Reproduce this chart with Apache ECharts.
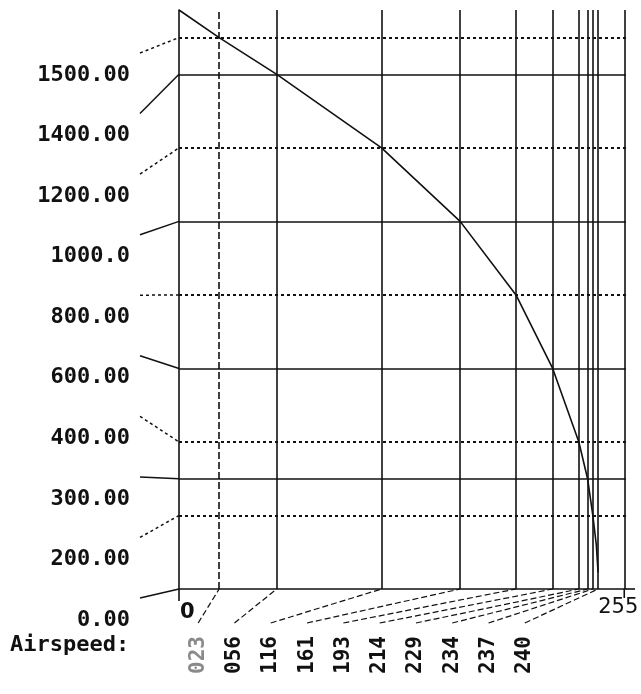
<!DOCTYPE html>
<html>
<head>
<meta charset="utf-8">
<script src="https://cdn.jsdelivr.net/npm/echarts@6/dist/echarts.min.js"></script>
<style>
  html, body { margin: 0; padding: 0; background: #fff; }
  #chart { width: 641px; height: 694px; }
</style>
</head>
<body>
<div id="chart"></div>
<script>
// 高度刻度（横线）
const altLevels = [1500, 1400, 1200, 1000, 800, 600, 400, 300, 200, 0];
const altLabels = ['1500.00', '1400.00', '1200.00', '1000.0', '800.00', '600.00', '400.00', '300.00', '200.00', '0.00'];
const altDotted = [true, false, true, false, true, false, true, false, true, false];

// 空速刻度（竖线）
const speedTicks = [23, 56, 116, 161, 193, 214, 229, 234, 237, 240];
const speedLabels = ['023', '056', '116', '161', '193', '214', '229', '234', '237', '240'];
const speedMax = 255;

// 曲线
const curveSpeed = [0, 23, 56, 116, 161, 193, 214, 229, 234, 237, 239, 240];
const curveAlt = [1575, 1500, 1400, 1200, 1000, 800, 600, 400, 300, 200, 120, 45];

const ink = '#111';
const monoBold = '"DejaVu Sans Mono", monospace';
const dotDash = [3, 3];

const chart = echarts.init(document.getElementById('chart'));

// 网格线（markLine）
const gridLines = [];
speedTicks.forEach(s => {
  gridLines.push({
    xAxis: s,
    lineStyle: { type: s === 23 ? [7, 3] : 'solid', color: ink, width: 1.6 },
  });
});
gridLines.push({ xAxis: speedMax, lineStyle: { type: 'solid', color: ink, width: 1.6 } });
altLevels.forEach((lvl, i) => {
  if (lvl === 0) return;
  gridLines.push({
    yAxis: lvl,
    lineStyle: { type: altDotted[i] ? dotDash : 'solid', color: ink, width: altDotted[i] ? 2 : 1.6 },
  });
});

const option = {
  animation: false,
  grid: [
    { left: 179, top: 10, width: 447, height: 579 }, // 主图
    { left: 140, top: 75, width: 39, height: 545 }, // 左侧标签
    { left: 180, top: 560, width: 363, height: 63 }, // 底部标签
  ],
  xAxis: [
    {
      gridIndex: 0,
      type: 'value',
      min: 0,
      max: 256,
      axisLine: { show: true, onZero: false, lineStyle: { color: ink, width: 1.6 } },
      axisTick: { show: false },
      axisLabel: { show: false },
      splitLine: { show: false },
    },
    { gridIndex: 1, type: 'value', min: 0, max: 1, show: false },
    {
      gridIndex: 2,
      type: 'category',
      data: speedLabels,
      axisLine: { show: false },
      axisTick: { show: false },
      splitLine: { show: false },
      axisLabel: {
        rotate: 90,
        margin: 13,
        interval: 0,
        fontFamily: monoBold,
        fontWeight: 'bold',
        fontSize: 21,
        color: v => (v === '023' ? '#8a8a8a' : ink),
      },
    },
  ],
  yAxis: [
    {
      gridIndex: 0,
      type: 'value',
      min: 0,
      max: 1575,
      axisLine: { show: true, lineStyle: { color: ink, width: 1.6 } },
      axisTick: { show: false },
      axisLabel: { show: false },
      splitLine: { show: false },
    },
    {
      gridIndex: 1,
      type: 'value',
      min: 0,
      max: 9,
      interval: 1,
      inverse: true,
      axisLine: { show: false },
      axisTick: { show: false },
      splitLine: { show: false },
      axisLabel: {
        margin: 10,
        formatter: v => altLabels[v] || '',
        fontFamily: monoBold,
        fontWeight: 'bold',
        fontSize: 22,
        color: ink,
      },
    },
    { gridIndex: 2, type: 'value', min: 0, max: 1, show: false },
  ],
  series: [
    {
      name: '曲线',
      type: 'line',
      xAxisIndex: 0,
      yAxisIndex: 0,
      data: curveSpeed.map((s, i) => [s, curveAlt[i]]),
      symbol: 'none',
      silent: true,
      lineStyle: { color: ink, width: 1.6 },
      z: 3,
      markLine: {
        silent: true,
        symbol: 'none',
        label: { show: false },
        data: gridLines,
        z: 2,
      },
    },
  ],
};

chart.setOption(option);

// 引线和文字（按坐标换算）
const px = (gi, v) => chart.convertToPixel({ gridIndex: gi }, v);
const elements = [];

altLevels.forEach((lvl, i) => {
  const end = px(0, [0, lvl]);
  const start = px(1, [0, i]);
  elements.push({
    type: 'line',
    silent: true,
    shape: { x1: start[0], y1: start[1] - 22, x2: end[0], y2: end[1] },
    style: { stroke: ink, lineWidth: 1.5, lineDash: altDotted[i] ? dotDash : null },
  });
});

speedTicks.forEach((s, i) => {
  const end = px(0, [s, 0]);
  const start = px(2, [i, 0]);
  elements.push({
    type: 'line',
    silent: true,
    shape: { x1: start[0], y1: start[1], x2: end[0], y2: end[1] },
    style: { stroke: ink, lineWidth: 1.2, lineDash: [6, 3] },
  });
});

const origin = px(0, [0, 0]);
const rightEnd = px(0, [speedMax, 0]);
const gridEnd = px(0, [256, 0]);

// 轴线向下/向右延伸
elements.push({
  type: 'line', silent: true,
  shape: { x1: origin[0], y1: origin[1], x2: origin[0], y2: origin[1] + 12 },
  style: { stroke: ink, lineWidth: 1.6 },
});
elements.push({
  type: 'line', silent: true,
  shape: { x1: rightEnd[0], y1: rightEnd[1], x2: rightEnd[0], y2: rightEnd[1] + 9 },
  style: { stroke: ink, lineWidth: 1.6 },
});
elements.push({
  type: 'line', silent: true,
  shape: { x1: gridEnd[0], y1: gridEnd[1], x2: gridEnd[0] + 9, y2: gridEnd[1] },
  style: { stroke: ink, lineWidth: 1.6 },
});

elements.push({
  type: 'text', silent: true,
  style: {
    text: '0', x: origin[0] + 1, y: origin[1] + 13,
    font: 'bold 21px "DejaVu Sans"', fill: ink,
    align: 'left', verticalAlign: 'top', textAlign: 'left', textVerticalAlign: 'top',
  },
});
elements.push({
  type: 'text', silent: true,
  style: {
    text: String(speedMax), x: rightEnd[0] - 6, y: rightEnd[1] + 8,
    font: '21px "DejaVu Sans"', fill: ink,
    align: 'center', verticalAlign: 'top', textAlign: 'center', textVerticalAlign: 'top',
  },
});
elements.push({
  type: 'text', silent: true,
  style: {
    text: 'Airspeed:', x: 10, y: 645,
    font: 'bold 22px "DejaVu Sans Mono"', fill: ink,
    align: 'left', verticalAlign: 'middle', textAlign: 'left', textVerticalAlign: 'middle',
  },
});

chart.setOption({ graphic: { elements } });
</script>
</body>
</html>
